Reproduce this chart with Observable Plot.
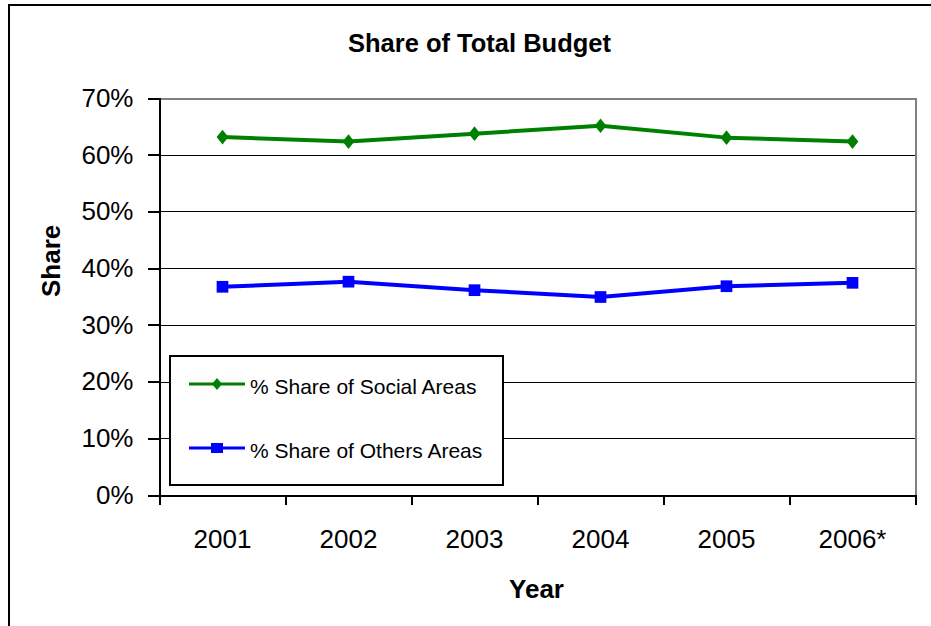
<!DOCTYPE html>
<html>
<head>
<meta charset="utf-8">
<script src="https://cdn.jsdelivr.net/npm/d3@7"></script>
<script src="https://cdn.jsdelivr.net/npm/@observablehq/plot@0.6"></script>
<style>
  html, body { margin: 0; padding: 0; background: #fff; }
  body { font-family: "Liberation Sans", Arial, Helvetica, sans-serif; }
  #wrap { position: relative; width: 931px; height: 626px; overflow: hidden; background: #fff; }
  #frame { position: absolute; left: 8px; top: 4px; right: -10px; bottom: -10px;
           border-left: 2px solid #000; border-top: 2px solid #000; pointer-events: none; }
  #chart { position: absolute; left: 0; top: 0; }
  #legend { position: absolute; left: 169px; top: 355px; width: 335px; height: 131px;
            box-sizing: border-box; border: 2px solid #000; background: #fff; }
  .item-swatch { position: absolute; left: 18px; }
  .item-label { position: absolute; left: 79px; font-size: 21px; line-height: 21px; color: #000; white-space: nowrap; }
</style>
</head>
<body>
<div id="wrap">
  <div id="chart"></div>
  <div id="legend"></div>
  <div id="frame"></div>
</div>
<script>
// ---- data ----
const years = ["2001", "2002", "2003", "2004", "2005", "2006*"];
const socialShare = [0.632, 0.624, 0.638, 0.652, 0.631, 0.624];
const othersShare = [0.368, 0.377, 0.362, 0.350, 0.369, 0.375];
const seriesNames = ["% Share of Social Areas", "% Share of Others Areas"];
const seriesColors = ["#008000", "#0000FF"];
const yTicks = [0, 0.1, 0.2, 0.3, 0.4, 0.5, 0.6, 0.7];
const titleText = "Share of Total Budget";
const xLabel = "Year";
const yLabel = "Share";

// category positions (centre of each year band)
const social = years.map((y, i) => ({pos: i + 0.5, year: y, v: socialShare[i]}));
const others = years.map((y, i) => ({pos: i + 0.5, year: y, v: othersShare[i]}));
const boundaries = d3.range(0, years.length + 1);
const centers = years.map((y, i) => i + 0.5);

const diamond = {
  draw(ctx, size) {
    const h = Math.sqrt(size) * 0.69, w = h * 0.8;
    ctx.moveTo(0, -h); ctx.lineTo(w, 0); ctx.lineTo(0, h); ctx.lineTo(-w, 0); ctx.closePath();
  }
};

const font = "'Liberation Sans', Arial, sans-serif";

const plot = Plot.plot({
  width: 931,
  height: 626,
  marginLeft: 159,
  marginRight: 16,
  marginTop: 98,
  marginBottom: 131,
  style: {fontFamily: font, background: "transparent", overflow: "visible"},
  x: {type: "linear", domain: [0, years.length]},
  y: {type: "linear", domain: [0, 0.7]},
  marks: [
    // gridlines
    Plot.ruleY(yTicks.filter(t => t > 0 && t < 0.7), {stroke: "#000", strokeWidth: 1, shapeRendering: "crispEdges"}),
    // plot area border (grey top/right)
    Plot.ruleY([0.7], {stroke: "#808080", strokeWidth: 2, shapeRendering: "crispEdges"}),
    Plot.ruleX([years.length], {stroke: "#808080", strokeWidth: 2, shapeRendering: "crispEdges"}),
    // axes lines
    Plot.ruleX([0], {stroke: "#000", strokeWidth: 2, shapeRendering: "crispEdges"}),
    Plot.ruleY([0], {stroke: "#000", strokeWidth: 2, shapeRendering: "crispEdges"}),
    // y axis
    Plot.axisY({ticks: yTicks, tickFormat: d3.format(".0%"), tickSize: 11, tickPadding: 15,
      fontSize: 26, label: null, stroke: "#000", strokeWidth: 2, fill: "#000", shapeRendering: "crispEdges"}),
    // x axis boundary ticks
    Plot.axisX({ticks: boundaries, tickFormat: () => "", tickSize: 10, label: null,
      stroke: "#000", strokeWidth: 2, shapeRendering: "crispEdges"}),
    // x axis labels at band centers
    Plot.axisX({ticks: centers, tickFormat: d => years[Math.floor(d)], tickSize: 0, tickPadding: 34,
      fontSize: 26, label: null, fill: "#000"}),
    // series
    Plot.line(social, {x: "pos", y: "v", stroke: seriesColors[0], strokeWidth: 4}),
    Plot.dot(social, {x: "pos", y: "v", symbol: diamond, r: 6, fill: seriesColors[0], stroke: "none"}),
    Plot.line(others, {x: "pos", y: "v", stroke: seriesColors[1], strokeWidth: 4}),
    Plot.dot(others, {x: "pos", y: "v", symbol: "square", r: 6.6, fill: seriesColors[1], stroke: "none"}),
    // title & axis titles
    Plot.text([titleText], {frameAnchor: "top", lineAnchor: "bottom", dy: -47, dx: -58,
      fontSize: 25.5, fontWeight: "bold", fill: "#000"}),
    Plot.text([yLabel], {frameAnchor: "left", rotate: -90, dx: -108, fontSize: 26,
      fontWeight: "bold", fill: "#000"}),
    Plot.text([xLabel], {frameAnchor: "bottom", lineAnchor: "bottom", dy: 102, dx: -1,
      fontSize: 26, fontWeight: "bold", fill: "#000"})
  ]
});
document.getElementById("chart").appendChild(plot);

// ---- legend ----
const legend = d3.select("#legend");
const itemTops = [19, 83];
seriesNames.forEach((name, i) => {
  const sw = legend.append("svg").attr("class", "item-swatch")
    .attr("width", 56).attr("height", 16).style("top", itemTops[i] + "px");
  sw.append("line").attr("x1", 0).attr("x2", 56).attr("y1", 8).attr("y2", 8)
    .attr("stroke", seriesColors[i]).attr("stroke-width", 3);
  if (i === 0) {
    sw.append("path").attr("d", "M28,2 L33,8 L28,14 L23,8 Z").attr("fill", seriesColors[i]);
  } else {
    sw.append("rect").attr("x", 22).attr("y", 3).attr("width", 12).attr("height", 10).attr("fill", seriesColors[i]);
  }
  legend.append("div").attr("class", "item-label").style("top", itemTops[i] + "px").text(name);
});
</script>
</body>
</html>
